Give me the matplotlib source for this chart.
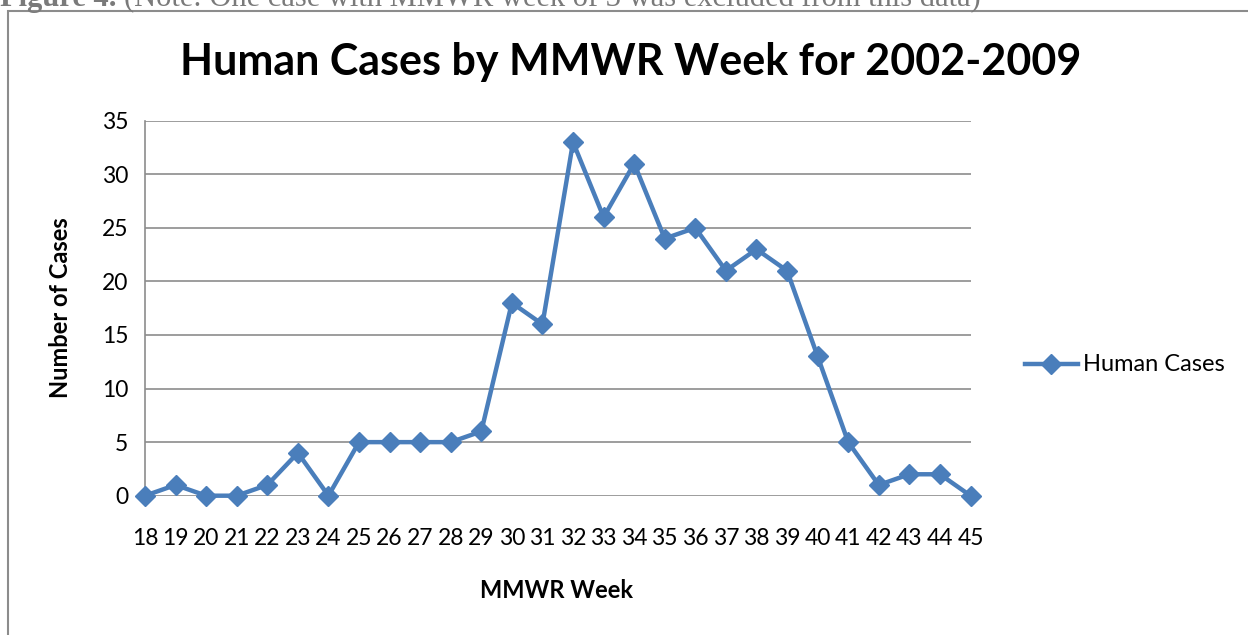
import matplotlib
matplotlib.use('Agg')
import matplotlib.pyplot as plt
from matplotlib.patches import Rectangle
from matplotlib.lines import Line2D

# data
weeks = list(range(18, 46))
cases = [0, 1, 0, 0, 1, 4, 0, 5, 5, 5, 5, 6, 18, 16, 33, 26, 31, 24, 25, 21, 23, 21, 13, 5, 1, 2, 2, 0]
series_name = 'Human Cases'
title = 'Human Cases by MMWR Week for 2002-2009'
caption_head = 'Figure 4. '
caption_note = '(Note: One case with MMWR week of 3 was excluded from this data)'

W, H = 1248, 635
blue = '#4A7EBB'
plt.rcParams['font.family'] = ['Lato', 'DejaVu Sans']

fig = plt.figure(figsize=(W / 100, H / 100), dpi=100)

# outer chart frame (cut off at right/bottom like the screenshot)
fig.patches.append(Rectangle((7.5 / W, -0.1), 1.2, 1 - 10.5 / H + 0.1, transform=fig.transFigure,
                             fill=False, edgecolor='#8c8c8c', linewidth=1.5))

# caption of the document, cut at the top
head = fig.text(0.0, 1 - 6 / H, caption_head, family='Liberation Serif', fontweight='bold',
                fontsize=22, color='#7a7a7a', va='baseline', ha='left')
fig.canvas.draw()
bb = head.get_window_extent()
fig.text(bb.x1 / W, 1 - 6 / H, caption_note, family='Liberation Serif',
         fontsize=22, color='#7a7a7a', va='baseline', ha='left')

ax = fig.add_axes([145 / W, 1 - 495.7 / H, (970.5 - 145) / W, (495.7 - 120.7) / H])
ax.plot(weeks, cases, color=blue, linewidth=3.2, marker='D', markersize=10.5,
        markerfacecolor=blue, markeredgecolor=blue, clip_on=False, zorder=3)

ax.set_xlim(18, 45)
ax.set_ylim(0, 35)
ax.set_yticks(range(0, 36, 5))
ax.set_xticks(weeks)
ax.yaxis.grid(True, color='#8c8c8c', linewidth=1.2)
ax.set_axisbelow(True)
for s in ['top', 'right', 'bottom']:
    ax.spines[s].set_visible(False)
ax.spines['left'].set_color('#8c8c8c')
ax.spines['left'].set_linewidth(1.2)
ax.tick_params(axis='both', length=0, labelsize=16.5, colors='black')
ax.tick_params(axis='y', pad=12)
ax.tick_params(axis='x', pad=23)

fig.text(557 / W, 1 - 591 / H, 'MMWR Week', fontweight='bold', fontsize=17, ha='center', va='center')
fig.text(60 / W, 1 - 308 / H, 'Number of Cases', fontweight='bold', fontsize=17,
         rotation=90, ha='center', va='center')
fig.text(631 / W, 1 - 62 / H, title, fontweight='bold', fontsize=31, ha='center', va='center')

# legend
fig.lines.append(Line2D([1025 / W, 1078 / W], [1 - 364 / H] * 2, transform=fig.transFigure,
                        color=blue, linewidth=3.2))
fig.lines.append(Line2D([1051 / W], [1 - 364 / H], transform=fig.transFigure, color=blue,
                        marker='D', markersize=10.5, linestyle='none'))
fig.text(1083 / W, 1 - 364 / H, series_name, fontsize=17, ha='left', va='center')

fig.savefig('out.png', dpi=100)
